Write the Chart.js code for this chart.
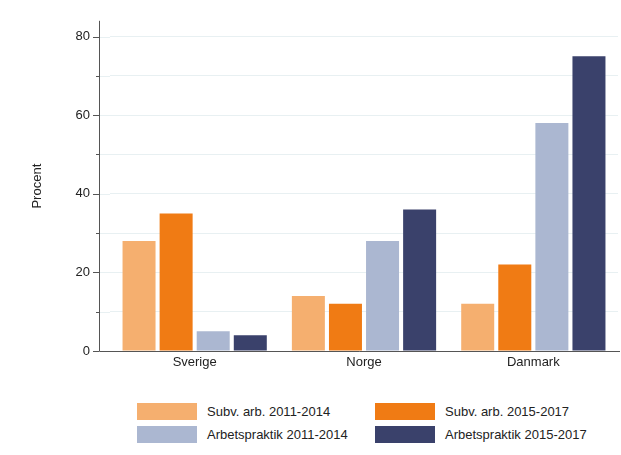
<!DOCTYPE html>
<html>
<head>
<meta charset="utf-8">
<script src="https://cdn.jsdelivr.net/npm/chart.js@4"></script>
<style>
  html, body { margin:0; padding:0; background:#fff; }
  body { width:621px; height:455px; position:relative; overflow:hidden; font-family:"Liberation Sans", Arial, sans-serif; }
  #wrap { position:absolute; left:0; top:-7px; width:621px; height:397px; }
  #legend { position:absolute; left:137px; top:403px; display:grid; grid-template-columns:238px 220px; row-gap:6px; }
  .item { display:flex; align-items:center; height:17px; font-size:13px; color:#222; white-space:nowrap; }
  .sw { width:60px; height:17px; margin-right:10px; flex-shrink:0; }
</style>
</head>
<body>
<div id="wrap"><canvas id="c"></canvas></div>
<div id="legend"></div>
<script>
const COUNTRIES = ['Sverige', 'Norge', 'Danmark'];
const SERIES = ['Subv. arb. 2011-2014', 'Subv. arb. 2015-2017', 'Arbetspraktik 2011-2014', 'Arbetspraktik 2015-2017'];
const SUBV_1114 = [28, 14, 12];
const SUBV_1517 = [35, 12, 22];
const PRAK_1114 = [5, 28, 58];
const PRAK_1517 = [4, 36, 75];
const Y_TICKS = [0, 20, 40, 60, 80];
const COLORS = ['#f5af6f', '#f07b14', '#abb7d1', '#3a416b'];

const AXIS_X = 99;
const GRID = '#e8f0f2';
const AXIS = '#555';

const axisPlugin = {
  id: 'axisPlugin',
  beforeDatasetsDraw(chart) {
    const { ctx, chartArea, scales } = chart;
    ctx.save();
    ctx.strokeStyle = GRID;
    ctx.lineWidth = 1;
    scales.y.ticks.forEach(t => {
      if (t.value === 0) return;
      const y = Math.round(scales.y.getPixelForValue(t.value)) + 0.5;
      ctx.beginPath(); ctx.moveTo(AXIS_X, y); ctx.lineTo(chartArea.left, y); ctx.stroke();
    });
    ctx.restore();
  },
  afterDraw(chart) {
    const { ctx, chartArea, scales } = chart;
    ctx.save();
    ctx.strokeStyle = AXIS;
    ctx.lineWidth = 1;
    const bottom = Math.round(scales.y.getPixelForValue(0)) + 0.5;
    ctx.beginPath();
    ctx.moveTo(AXIS_X + 0.5, chartArea.top);
    ctx.lineTo(AXIS_X + 0.5, bottom);
    ctx.lineTo(chartArea.right + 2, bottom);
    ctx.stroke();
    scales.y.ticks.forEach(t => {
      const y = Math.round(scales.y.getPixelForValue(t.value)) + 0.5;
      const len = Y_TICKS.includes(t.value) ? 6 : 3;
      ctx.beginPath(); ctx.moveTo(AXIS_X - len, y); ctx.lineTo(AXIS_X, y); ctx.stroke();
    });
    // y axis title
    ctx.translate(37, (chartArea.top + bottom) / 2);
    ctx.rotate(-Math.PI / 2);
    ctx.fillStyle = '#222';
    ctx.font = '13px "Liberation Sans"';
    ctx.textAlign = 'center';
    ctx.textBaseline = 'middle';
    ctx.fillText('Procent', 0, 0);
    ctx.restore();
  }
};

const datasets = SERIES.map((label, i) => ({
  label,
  data: [SUBV_1114, SUBV_1517, PRAK_1114, PRAK_1517][i],
  backgroundColor: COLORS[i],
  borderWidth: 0,
  categoryPercentage: 0.876,
  barPercentage: 0.89,
}));

new Chart(document.getElementById('c'), {
  type: 'bar',
  data: { labels: COUNTRIES, datasets },
  plugins: [axisPlugin],
  options: {
    responsive: true, maintainAspectRatio: false, animation: false,
    layout: { padding: { top: 14, right: 3, left: 0, bottom: 0 } },
    plugins: { legend: { display: false }, tooltip: { enabled: false } },
    scales: {
      x: {
        grid: { display: false, drawTicks: false },
        border: { display: false },
        ticks: { color: '#222', font: { family: 'Liberation Sans', size: 13 }, padding: 4 },
        afterFit(s) { s.height = 39; },
      },
      y: {
        min: 0, max: 84,
        grid: { color: GRID, drawTicks: false },
        border: { display: false },
        afterBuildTicks(s) { s.ticks = [0,10,20,30,40,50,60,70,80].map(v => ({ value: v })); },
        ticks: {
          color: '#222', font: { family: 'Liberation Sans', size: 13 }, padding: 20,
          callback: v => Y_TICKS.includes(v) ? String(v) : '',
        },
        afterFit(s) { s.width = 110; },
      },
    },
  },
});

document.getElementById('legend').innerHTML = SERIES.map((s, i) =>
  `<div class="item"><span class="sw" style="background:${COLORS[i]}"></span>${s}</div>`
).join('');
</script>
</body>
</html>
